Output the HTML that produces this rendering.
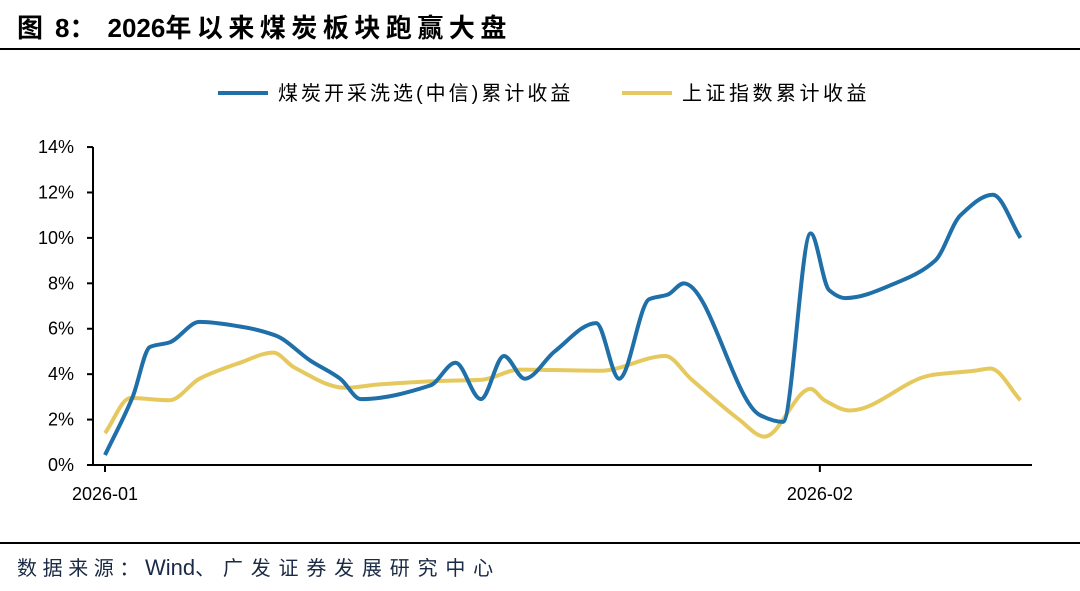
<!DOCTYPE html>
<html><head><meta charset="utf-8"><style>
body{margin:0;background:#fff;width:1080px;height:586px;overflow:hidden;font-family:"Liberation Sans","Noto Sans CJK SC",sans-serif}
</style></head><body>
<svg width="1080" height="586" xmlns="http://www.w3.org/2000/svg">
<text x="17" y="37" font-size="26" font-weight="bold" fill="#000"><tspan letter-spacing="12">图</tspan><tspan>8：</tspan><tspan dx="12">2026</tspan><tspan letter-spacing="5.5">年以来煤炭板块跑赢大盘</tspan></text>
<line x1="0" y1="49" x2="1080" y2="49" stroke="#000" stroke-width="2"/>
<g>
<line x1="218" y1="93" x2="268" y2="93" stroke="#1F6FA8" stroke-width="4"/>
<text x="278" y="100" font-size="20" letter-spacing="3" fill="#000">煤炭开采洗选(中信)累计收益</text>
<line x1="622" y1="93" x2="672" y2="93" stroke="#E6C95E" stroke-width="4"/>
<text x="682" y="100" font-size="20" letter-spacing="3.5" fill="#000">上证指数累计收益</text>
</g>
<g id="axes"></g>
<g id="series"></g>
<line x1="0" y1="543" x2="1080" y2="543" stroke="#000" stroke-width="2"/>
<text x="17" y="575" font-size="20" fill="#1a2a44"><tspan letter-spacing="5.6">数据来源：</tspan><tspan font-size="22">Wind</tspan><tspan letter-spacing="7.8">、广发证券发展研究中心</tspan></text>
</svg>
<script>
const coalDays=[0,1.2,1.95,2.8,4.1,5.85,7.4,8.9,10.2,11.1,14.1,15.2,16.3,17.3,18.2,19.5,21.3,22.3,23.6,24.4,25.1,28.4,29.4,30.6,31.4,32.1,34.5,36.0,37.1,38.5,39.7];
const coalValues=[0.44,3.0,5.2,5.4,6.3,6.1,5.7,4.6,3.8,2.9,3.5,4.5,2.9,4.8,3.8,5.0,6.25,3.8,7.3,7.5,8.0,2.2,1.9,10.2,7.7,7.35,8.1,9.0,11.0,11.9,10.0];
const sseDays=[0,1.1,2.8,4.1,5.85,7.3,8.2,10.4,11.9,14.5,16.3,18.0,21.5,24.3,25.4,27.5,28.6,30.6,31.2,32.3,35.8,37.7,38.4,39.7];
const sseValues=[1.4,2.95,2.85,3.8,4.5,4.95,4.3,3.4,3.55,3.7,3.75,4.2,4.15,4.8,3.8,2.0,1.25,3.35,2.85,2.4,3.95,4.15,4.25,2.85];
const yTicks=[0,2,4,6,8,10,12,14];
const xTickDays=[0,31];
const xTickLabels=["2026-01","2026-02"];
const NS="http://www.w3.org/2000/svg";
const X=d=>105+d*23.06, Y=v=>465-v*22.71;
const axes=document.getElementById('axes'), series=document.getElementById('series');
function mk(t,a,p){const e=document.createElementNS(NS,t);for(const k in a)e.setAttribute(k,a[k]);p.appendChild(e);return e;}
const ya=mk('line',{x1:93,y1:Y(14),x2:93,y2:465,stroke:'#000','stroke-width':2},axes);


const xa=mk('line',{x1:93,y1:465,x2:1032,y2:465,stroke:'#000','stroke-width':2},axes);


yTicks.forEach(v=>{
 const t=mk('line',{x1:87,y1:Y(v),x2:93,y2:Y(v),stroke:'#000','stroke-width':2},axes);
 
 
 const l=mk('text',{x:74,y:Y(v)+6,'font-size':18,'text-anchor':'end',fill:'#000'},axes);
 l.textContent=v+'%';
 
 
});
xTickDays.forEach((d,i)=>{
 const t=mk('line',{x1:X(d),y1:465,x2:X(d),y2:472,stroke:'#000','stroke-width':2},axes);
 
 
 const l=mk('text',{x:X(d),y:500,'font-size':18,'text-anchor':'middle',fill:'#000'},axes);
 l.textContent=xTickLabels[i];
 
 
});
function path(ds,vs){
 const p=ds.map((d,i)=>[X(d),Y(vs[i])]);
 const n=p.length, sl=[], m=[];
 for(let i=0;i<n-1;i++) sl.push((p[i+1][1]-p[i][1])/(p[i+1][0]-p[i][0]));
 for(let i=0;i<n;i++){
  if(i===0) m.push(sl[0]); else if(i===n-1) m.push(sl[n-2]);
  else if(sl[i-1]*sl[i]<=0) m.push(0);
  else m.push(2/(1/sl[i-1]+1/sl[i]));
 }
 let s='M'+p[0][0]+','+p[0][1];
 for(let i=0;i<n-1;i++){
  const h=(p[i+1][0]-p[i][0])/3;
  s+=` C${p[i][0]+h},${p[i][1]+m[i]*h} ${p[i+1][0]-h},${p[i+1][1]-m[i+1]*h} ${p[i+1][0]},${p[i+1][1]}`;
 }
 return s;
}
const s2=mk('path',{d:path(sseDays,sseValues),fill:'none',stroke:'#E6C95E','stroke-width':4,'stroke-linejoin':'round'},series);


const s1=mk('path',{d:path(coalDays,coalValues),fill:'none',stroke:'#1F6FA8','stroke-width':4,'stroke-linejoin':'round'},series);


</script>
</body></html>
